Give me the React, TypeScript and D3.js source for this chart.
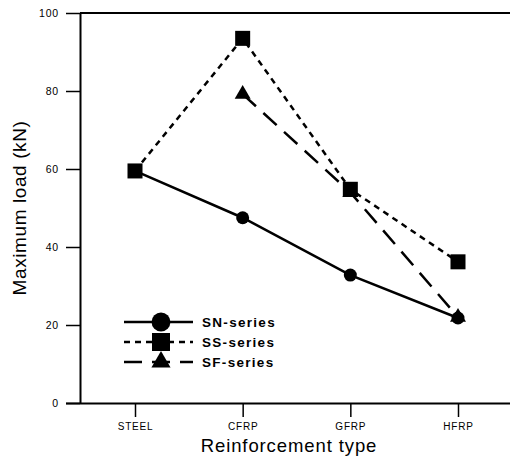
import React, { useRef, useEffect } from 'react';
import * as d3 from 'd3';

// categories and series
const categories = ['STEEL', 'CFRP', 'GFRP', 'HFRP'];
const snSeries = [59.5, 47.5, 32.8, 21.8];
const ssSeries = [59.5, 93.5, 54.8, 36.2];
const sfSeries = [null, 79.2, 54.0, 22.0];
const yTicks = [0, 20, 40, 60, 80, 100];

const series = [
    { name: 'SN-series', values: snSeries, dash: null, marker: 'circle' },
    { name: 'SS-series', values: ssSeries, dash: '6,5', marker: 'square' },
    { name: 'SF-series', values: sfSeries, dash: '18,10', marker: 'triangle' },
];

const W = 510;
const H = 457;

const App = () => {
    const ref = useRef<SVGSVGElement>(null);

    useEffect(() => {
        const svg = d3.select(ref.current);
        svg.selectAll('*').remove();

        const left = 80, top = 13, bottom = 403, right = 515;

        const x = d3.scalePoint<string>().domain(categories).range([135, 458]);
        const y = d3.scaleLinear().domain([0, 100]).range([bottom, top]);

        const font = 'Arial, "Liberation Sans", sans-serif';

        // frame top line
        svg.append('line').attr('x1', left).attr('x2', right).attr('y1', top).attr('y2', top)
            .attr('stroke', '#000').attr('stroke-width', 2);

        // y axis
        const yAxis = svg.append('g').attr('transform', `translate(${left},0)`)
            .call(d3.axisLeft(y).tickValues(yTicks).tickSize(14).tickSizeOuter(0).tickPadding(7));
        yAxis.select('.domain').attr('stroke-width', 2);
        yAxis.selectAll('.tick line').attr('stroke-width', 1.5);
        yAxis.selectAll('text').attr('font-family', font).attr('font-size', 10.5)
            .attr('letter-spacing', 0.8).attr('fill', '#000');

        // x axis
        const xAxis = svg.append('g').attr('transform', `translate(0,${bottom})`)
            .call(d3.axisBottom(x).tickSize(14).tickSizeOuter(0).tickPadding(6));
        xAxis.select('.domain').attr('d', `M${left - 14},0.5H${right}`).attr('stroke-width', 2);
        xAxis.selectAll('.tick line').attr('stroke-width', 1.5);
        xAxis.selectAll('text').attr('font-family', font).attr('font-size', 10)
            .attr('letter-spacing', 0.8).attr('fill', '#000');

        // axis titles
        svg.append('text').attr('x', 289).attr('y', 452).attr('text-anchor', 'middle')
            .attr('font-family', font).attr('font-size', 18.5).attr('letter-spacing', 0.9)
            .text('Reinforcement type');
        svg.append('text').attr('transform', `translate(26,${(top + bottom) / 2}) rotate(-90)`)
            .attr('text-anchor', 'middle').attr('font-family', font).attr('font-size', 19)
            .attr('letter-spacing', 0.6).text('Maximum load  (kN)');

        const drawMarker = (g, kind, cx, cy, s) => {
            if (kind === 'circle') {
                g.append('circle').attr('cx', cx).attr('cy', cy).attr('r', 6.5 * s).attr('fill', '#000');
            } else if (kind === 'square') {
                const h = 7.5 * s;
                g.append('rect').attr('x', cx - h).attr('y', cy - h).attr('width', 2 * h).attr('height', 2 * h).attr('fill', '#000');
            } else {
                g.append('path').attr('d', d3.symbol(d3.symbolTriangle, 110 * s * s)()).attr('transform', `translate(${cx},${cy})`).attr('fill', '#000');
            }
        };

        const line = d3.line<any>()
            .defined(d => d.v !== null)
            .x(d => x(d.c))
            .y(d => y(d.v));

        // draw lines: SF, SS, then SN on top
        [...series].reverse().forEach(s => {
            const pts = categories.map((c, i) => ({ c, v: s.values[i] }));
            const g = svg.append('g');
            g.append('path').datum(pts).attr('d', line).attr('fill', 'none')
                .attr('stroke', '#000').attr('stroke-width', 2.5)
                .attr('stroke-dasharray', s.dash);
            pts.filter(p => p.v !== null).forEach(p => drawMarker(g, s.marker, x(p.c), y(p.v), 1));
        });

        // legend
        const legendY = [322, 342, 362];
        series.forEach((s, i) => {
            const g = svg.append('g');
            const ly = legendY[i];
            g.append('line').attr('x1', 124).attr('x2', 193).attr('y1', ly).attr('y2', ly)
                .attr('stroke', '#000').attr('stroke-width', 2.5).attr('stroke-dasharray', s.dash);
            drawMarker(g, s.marker, 161, ly, i === 0 ? 1.45 : 1.2);
            g.append('text').attr('x', 202).attr('y', ly + 5).attr('font-family', font)
                .attr('font-weight', 'bold').attr('font-size', 13.5).attr('letter-spacing', 1.3)
                .text(s.name);
        });
    }, []);

    return (
        <div className="chart">
            <svg ref={ref} width={W} height={H} style={{ position: 'absolute', left: 0, top: 0, background: '#fff' }}></svg>
        </div>
    );
};

export default App;
